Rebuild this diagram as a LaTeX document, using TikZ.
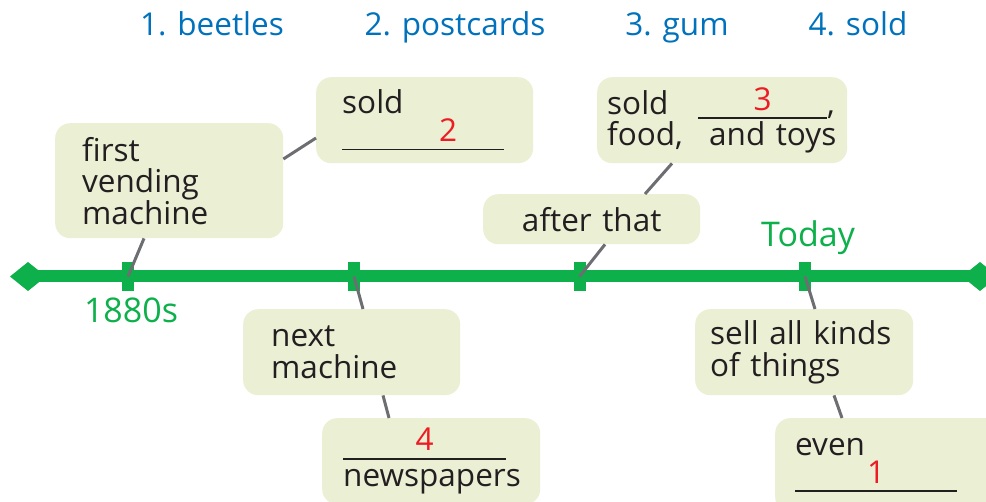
\documentclass[tikz,border=0pt]{standalone}
\usepackage{fontspec}
\setmainfont{Open Sans}
\usetikzlibrary{calc}
\definecolor{tlgreen}{RGB}{13,176,75}
\definecolor{boxfill}{RGB}{235,239,212}
\definecolor{conngray}{RGB}{109,110,113}
\definecolor{hdrblue}{RGB}{0,113,188}
\definecolor{numred}{RGB}{237,28,36}
\definecolor{txtblack}{RGB}{35,31,32}
\newcommand\blankfill[3]{\makebox[0pt][l]{\rule[-5pt]{#1pt}{1.6pt}}\makebox[#1pt][c]{\hspace*{#3pt}\raisebox{4pt}{\textcolor{numred}{#2}}}}
\tikzset{
  box/.style={fill=boxfill, rounded corners=15pt, anchor=north west, inner ysep=0pt,
    font=\fontsize{31.5}{31.5}\selectfont, text=txtblack, align=left},
  conn/.style={draw=conngray, line width=3pt},
  tickmark/.style={fill=tlgreen, minimum width=12pt, minimum height=29pt, inner sep=0pt},
  hdr/.style={text=hdrblue, anchor=base, font=\fontsize{31.5}{31.5}\selectfont, inner sep=0pt},
  glabel/.style={text=tlgreen, anchor=base, font=\fontsize{34}{34}\selectfont, inner sep=0pt}
}
\begin{document}
\begin{tikzpicture}[x=1pt,y=-1pt]
\useasboundingbox (0,0) rectangle (986,502);
\clip (0,0) rectangle (986,502);
% header
\node[hdr] (h1) at (212,36) {1. beetles};
\node[hdr] (h2) at (455,36) {2. postcards};
\node[hdr] (h3) at (677,36) {3. gum};
\node[hdr] (h4) at (858,36) {4. sold};
% timeline
\coordinate (e1) at (28,276.5);
\coordinate (e2) at (980,276.5);
\draw[tlgreen, line width=12pt] (e1) -- (e2);
\fill[tlgreen] ($(e1)+(-18,0)$) -- ($(e1)+(0,-14.5)$) -- ($(e1)+(18,0)$) -- ($(e1)+(0,14.5)$) -- cycle;
\fill[tlgreen] ($(e2)+(-18,0)$) -- ($(e2)+(0,-14.5)$) -- ($(e2)+(18,0)$) -- ($(e2)+(0,14.5)$) -- cycle;
\node[tickmark] (t1) at (128,276.5) {};
\node[tickmark] (t2) at (354,276.5) {};
\node[tickmark] (t3) at (579.5,276.5) {};
\node[tickmark] (t4) at (805,276.5) {};
\node[glabel] (l1) at (131,323) {1880s};
\node[glabel] (l2) at (808,247) {Today};
% boxes
\node[box, minimum width=228pt, minimum height=115pt, text width=174pt, inner xsep=27pt] (b1) at (55,123) {first\\vending\\machine};
\node[box, minimum width=217pt, minimum height=86pt, text width=165pt, inner xsep=26pt] (b2) at (316,77) {sold\\\blankfill{162}{2}{50}};
\node[box, minimum width=250pt, minimum height=86pt, text width=230pt, inner xsep=10pt] (b3) at (597,77) {\makebox[91pt][l]{sold}\blankfill{129}{3}{0},\\\makebox[102pt][l]{food,}and toys};
\node[box, minimum width=217pt, minimum height=50pt, text width=197pt, inner xsep=10pt, align=center] (b4) at (483,194) {after that};
\node[box, minimum width=217pt, minimum height=86pt, text width=161pt, inner xsep=28pt] (b5) at (243,309) {next\\machine};
\node[box, minimum width=218pt, minimum height=86pt, text width=176pt, inner xsep=21pt] (b6) at (322,418) {\blankfill{163}{4}{0}\\newspapers};
\node[box, minimum width=218pt, minimum height=86pt, text width=188pt, inner xsep=15pt] (b7) at (695,309) {sell all kinds\\of things};
\node[box, minimum width=230pt, minimum height=94pt, text width=190pt, inner xsep=20pt] (b8) at (775,418) {even\\\blankfill{162}{1}{0}};
% connectors
\draw[conn] (t1.center) -- ($(b1.south west)+(89,0)$);
\draw[conn] ($(b1.north east)+(0,36)$) -- ($(b2.north west)+(0,61)$);
\draw[conn] (t2.center) -- ($(b5.north west)+(120,0)$);
\draw[conn] ($(b5.south west)+(140,0)$) -- ($(b6.north west)+(67,0)$);
\draw[conn] (t3.center) -- ($(b4.south west)+(122,0)$);
\draw[conn] ($(b4.north west)+(162,0)$) -- ($(b3.south west)+(75,0)$);
\draw[conn] (t4.center) -- ($(b7.north west)+(120,0)$);
\draw[conn] ($(b7.south west)+(139,0)$) -- ($(b8.north west)+(67,0)$);
\end{tikzpicture}
\end{document}
